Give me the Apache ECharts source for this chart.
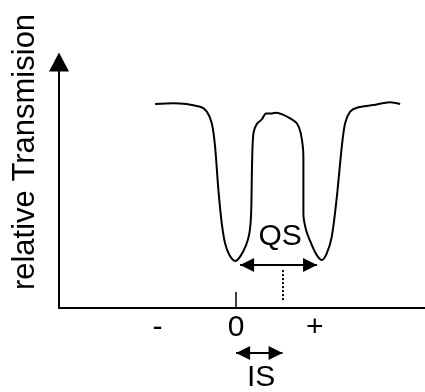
<!DOCTYPE html>
<html>
<head>
<meta charset="utf-8">
<script src="https://cdn.jsdelivr.net/npm/echarts@6/dist/echarts.min.js"></script>
<style>
html, body { margin: 0; padding: 0; background: #fff; }
#chart { width: 425px; height: 392px; }
</style>
</head>
<body>
<div id="chart"></div>
<script>
// doublet spectrum, velocity in arbitrary units, transmission relative
var velocity = [-1.029, -0.797, -0.457, -0.372, -0.309, -0.267, -0.225, -0.182, -0.140, -0.085,
    -0.013, 0.051, 0.127, 0.169, 0.191, 0.203, 0.220, 0.263, 0.327, 0.381,
    0.454, 0.517, 0.601, 0.686, 0.771, 0.822, 0.855, 0.855, 0.889, 0.962,
    1.025, 1.089, 1.152, 1.216, 1.280, 1.343, 1.385, 1.449, 1.534, 1.745,
    1.957, 2.084];
var transmission = [0.829, 0.832, 0.818, 0.798, 0.751, 0.656, 0.480, 0.344, 0.263, 0.215,
    0.191, 0.209, 0.256, 0.304, 0.385, 0.588, 0.710, 0.748, 0.767, 0.791,
    0.791, 0.794, 0.785, 0.771, 0.751, 0.710, 0.615, 0.385, 0.317, 0.256,
    0.215, 0.195, 0.222, 0.290, 0.452, 0.656, 0.751, 0.798, 0.814, 0.825,
    0.836, 0.829];

var xTicks = [-1, 0, 1];
var xTickText = ['-', '0', '+'];

var qsEnds = [0.051, 1.029];   // QS arrow tips
var qsLevel = 0.175;
var centroid = 0.59;           // isomer shift
var dotTop = 0.154;
var isLevel = 0.476;           // in lower strip

var curve = velocity.map(function (v, i) { return [v, transmission[i]]; });

var myChart = echarts.init(document.getElementById('chart'));
var black = '#000';
var font = 'Liberation Sans, Arial, sans-serif';
var arrowHead = {symbol: 'triangle', symbolSize: [14, 14], symbolOffset: [0, 7]};
var textLabel = {
    show: true,
    position: 'inside',
    formatter: '{b}',
    fontSize: 30,
    fontFamily: font,
    color: black,
    opacity: 1,
    textBorderWidth: 0
};

var option = {
    animation: false,
    grid: [
        {left: 59, right: 0, top: 62, bottom: 84},
        {left: 59, right: 0, top: 310, bottom: 0}
    ],
    xAxis: [
        {
            type: 'value',
            gridIndex: 0,
            min: -2.25,
            max: 2.4,
            axisLine: {lineStyle: {color: black, width: 2}},
            axisTick: {
                show: true,
                customValues: [0],
                inside: true,
                length: 16,
                lineStyle: {color: black, width: 1.5}
            },
            axisLabel: {
                customValues: xTicks,
                margin: 5,
                fontSize: 30,
                fontFamily: font,
                color: black,
                formatter: function (v) {
                    return xTickText[xTicks.indexOf(v)];
                }
            },
            splitLine: {show: false}
        },
        {type: 'value', gridIndex: 1, min: -2.25, max: 2.4, show: false}
    ],
    yAxis: [
        {
            type: 'value',
            gridIndex: 0,
            min: 0,
            max: 1,
            axisLine: {
                show: true,
                onZero: false,
                symbol: ['none', 'triangle'],
                symbolSize: [20, 19],
                lineStyle: {color: black, width: 2}
            },
            axisTick: {show: false},
            axisLabel: {show: false},
            splitLine: {show: false}
        },
        {type: 'value', gridIndex: 1, min: 0, max: 1, show: false}
    ],
    graphic: [{
        type: 'text',
        x: 25,
        y: 152,
        rotation: Math.PI / 2,
        style: {
            text: 'relative Transmision',
            font: '31px ' + font,
            fill: black,
            textAlign: 'center',
            textVerticalAlign: 'middle'
        }
    }],
    series: [
        {
            type: 'line',
            data: curve,
            smooth: 0.3,
            showSymbol: false,
            lineStyle: {color: black, width: 2},
            markLine: {
                silent: true,
                label: {show: false},
                data: [
                    [
                        Object.assign({coord: [qsEnds[0], qsLevel]}, arrowHead),
                        Object.assign({coord: [qsEnds[1], qsLevel],
                            lineStyle: {color: black, width: 2, type: 'solid'}}, arrowHead)
                    ],
                    [
                        {coord: [centroid, dotTop], symbol: 'none'},
                        {coord: [centroid, 0.024], symbol: 'none',
                         lineStyle: {color: black, width: 2, type: 'dotted'}}
                    ]
                ]
            }
        },
        {
            type: 'scatter',
            symbolSize: 0,
            itemStyle: {opacity: 1},
            data: [{name: 'QS', value: [0.559, 0.291]}],
            label: textLabel
        },
        {
            type: 'scatter',
            xAxisIndex: 1,
            yAxisIndex: 1,
            symbolSize: 0,
            itemStyle: {opacity: 1},
            data: [{name: 'IS', value: [0.318, 0.171]}],
            label: textLabel,
            markLine: {
                silent: true,
                label: {show: false},
                data: [
                    [
                        Object.assign({coord: [0, isLevel]}, arrowHead),
                        Object.assign({coord: [centroid, isLevel],
                            lineStyle: {color: black, width: 2, type: 'solid'}}, arrowHead)
                    ]
                ]
            }
        }
    ]
};
myChart.setOption(option);
</script>
</body>
</html>
